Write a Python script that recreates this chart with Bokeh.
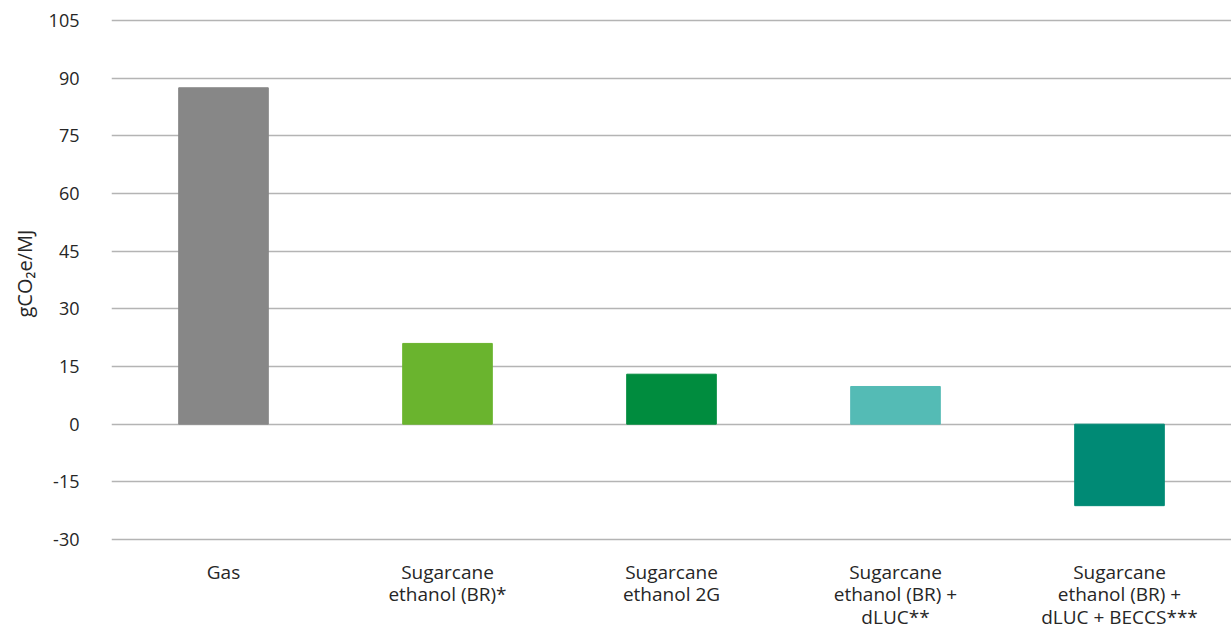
from bokeh.plotting import figure
from bokeh.models import Range1d, FixedTicker, ColumnDataSource, Title
from bokeh.core.properties import value
from bokeh.embed import file_html
from bokeh.resources import INLINE

# Emissions per fuel pathway (gCO2e/MJ)
categories = [
    ["Gas"],
    ["Sugarcane", "ethanol (BR)*"],
    ["Sugarcane", "ethanol 2G"],
    ["Sugarcane", "ethanol (BR) +", "dLUC**"],
    ["Sugarcane", "ethanol (BR) +", "dLUC + BECCS***"],
]
values = [87.5, 21.0, 13.0, 9.8, -21.2]
y_ticks = [-30, -15, 0, 15, 30, 45, 60, 75, 90, 105]

palette = ["#878787", "#6ab42e", "#008c3e", "#54bbb5", "#008a75"]

FONT = "Open Sans"
TEXT = "#262626"

# Frame runs from 18 px to the bottom of the canvas so that the
# category names can sit under the -30 line as ordinary text glyphs.
W, H = 1231, 632
TOP_PX = 18
PX_PER_UNIT = 519 / 135
y_top = max(y_ticks) + 2 / PX_PER_UNIT
y_bottom = y_top - (H - TOP_PX) / PX_PER_UNIT

def px_to_y(py):
    return y_top - (py - TOP_PX) / PX_PER_UNIT

xs = [i + 0.5 for i in range(len(categories))]
source = ColumnDataSource(dict(x=xs, top=values, color=palette))

p = figure(
    width=W, height=H,
    x_range=Range1d(0, len(categories)),
    y_range=Range1d(y_bottom, y_top),
    output_backend="svg", toolbar_location=None,
    min_border_left=111, min_border_right=0,
    min_border_top=TOP_PX, min_border_bottom=0,
)
p.outline_line_color = None
p.background_fill_color = "white"
p.border_fill_color = "white"

p.vbar(x="x", top="top", bottom=0, width=0.4, color="color", source=source)

# y axis
p.yaxis.ticker = FixedTicker(ticks=y_ticks)
p.yaxis.major_label_overrides = {t: str(t) for t in y_ticks}
p.yaxis.axis_line_color = None
p.yaxis.major_tick_line_color = None
p.yaxis.minor_tick_line_color = None
p.yaxis.major_label_text_font = FONT
p.yaxis.major_label_text_font_size = "18px"
p.yaxis.major_label_text_color = TEXT
p.yaxis.major_label_standoff = 26

# y axis title, anchored so it sits beside the upper part of the scale
p.add_layout(Title(
    text="gCO₂e/MJ", align="left", offset=H - 317,
    text_font=FONT, text_font_size="20px", text_font_style="normal",
    text_color=TEXT, standoff=16,
), "left")

# category names under the chart, one text glyph per line
lx, ly, lt = [], [], []
for x, lines in zip(xs, categories):
    for i, line in enumerate(lines):
        lx.append(x)
        ly.append(px_to_y(571 + 22.5 * i))
        lt.append(line)
p.text(x=lx, y=ly, text=lt, text_align="center", text_baseline="alphabetic",
       text_font=value(FONT), text_font_size="19px", text_color=TEXT)

p.xaxis.visible = False
p.xgrid.grid_line_color = None
p.ygrid.ticker = FixedTicker(ticks=y_ticks)
p.ygrid.grid_line_color = "#b4b4b4"
p.ygrid.grid_line_width = 1.5

open("out.html", "w").write(file_html(p, INLINE))
